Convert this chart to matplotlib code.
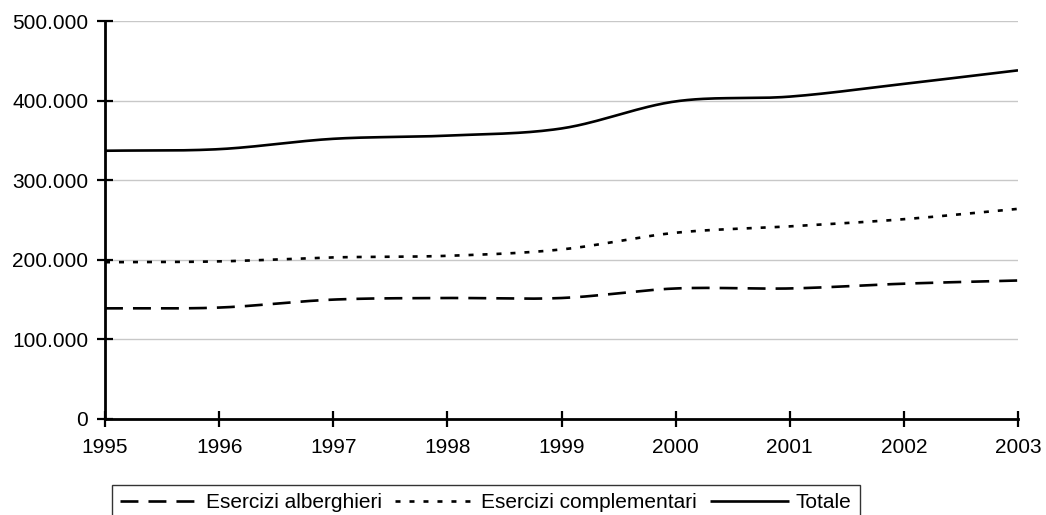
import numpy as np
import matplotlib
matplotlib.use("Agg")
import matplotlib.pyplot as plt
from matplotlib.ticker import FuncFormatter

plt.rcParams['font.family'] = ['Liberation Sans', 'DejaVu Sans']

anni = [1995, 1996, 1997, 1998, 1999, 2000, 2001, 2002, 2003]
alberghieri = [139000, 140000, 150000, 152000, 152000, 164000, 164000, 170000, 174000]
complementari = [197000, 198000, 203000, 205000, 213000, 234000, 242000, 251000, 264000]
totale = [337000, 339000, 352000, 356000, 365000, 399000, 405000, 421000, 438000]
etichette = ["Esercizi alberghieri", "Esercizi complementari", "Totale"]


def smooth(x, y, n=30):
    # catmull-rom curve through the points, like Excel smoothed lines
    x = np.asarray(x, float)
    y = np.asarray(y, float)
    px = np.concatenate([[2 * x[0] - x[1]], x, [2 * x[-1] - x[-2]]])
    py = np.concatenate([[2 * y[0] - y[1]], y, [2 * y[-1] - y[-2]]])
    xs, ys = [], []
    t = np.linspace(0, 1, n)
    for i in range(1, len(px) - 2):
        for p, out in ((px, xs), (py, ys)):
            p0, p1, p2, p3 = p[i - 1], p[i], p[i + 1], p[i + 2]
            out.append(0.5 * ((2 * p1) + (-p0 + p2) * t
                              + (2 * p0 - 5 * p1 + 4 * p2 - p3) * t ** 2
                              + (-p0 + 3 * p1 - 3 * p2 + p3) * t ** 3))
    return np.concatenate(xs), np.concatenate(ys)


fig = plt.figure(figsize=(10.46, 5.15), dpi=100)
ax = fig.add_axes([105 / 1046, 1 - 419 / 515, (1018 - 105) / 1046, (419 - 21) / 515])

lw = 1.9
stili = [(0, (6.8, 3.8)), (0, (1.9, 3.4)), '-']
for serie, lab, ls in zip([alberghieri, complementari, totale], etichette, stili):
    xs, ys = smooth(anni, serie)
    ax.plot(xs, ys, color='black', lw=lw, linestyle=ls, label=lab,
            solid_capstyle='butt', dash_capstyle='butt')

ax.set_xlim(1995, 2003)
ax.set_ylim(0, 500000)
ax.set_xticks(anni)
ax.set_yticks(range(0, 500001, 100000))
ax.yaxis.set_major_formatter(FuncFormatter(lambda v, p: '0' if v == 0 else f"{int(v):,}".replace(',', '.')))
ax.grid(axis='y', color='#c8c8c8', lw=1)
ax.set_axisbelow(True)
for s in ['top', 'right']:
    ax.spines[s].set_visible(False)
for s in ['left', 'bottom']:
    ax.spines[s].set_linewidth(2)
ax.tick_params(direction='inout', length=11, width=1.6, labelsize=15)
ax.tick_params(axis='y', pad=6.5)
ax.tick_params(axis='x', pad=8)

leg = fig.legend(loc='center left', bbox_to_anchor=(112 / 1046, 1 - 503 / 515), ncol=3,
                 frameon=True, fancybox=False, edgecolor='black', fontsize=15,
                 handlelength=3.8, handletextpad=0.3, columnspacing=0.65,
                 borderpad=0.4, borderaxespad=0)
leg.get_frame().set_linewidth(1)

fig.savefig('out.png', dpi=100)
